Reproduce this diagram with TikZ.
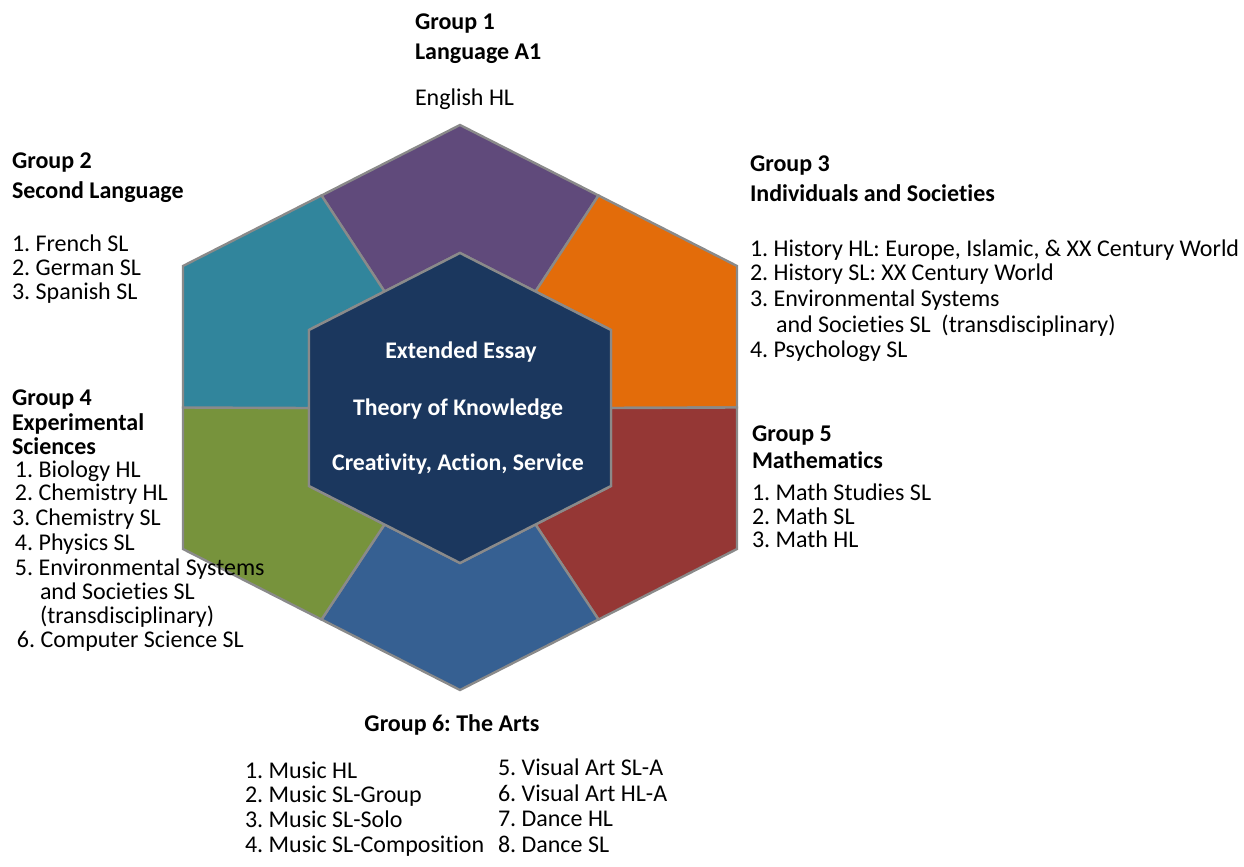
\documentclass[tikz,border=0pt]{standalone}
\usepackage{fontspec}
\setmainfont{Carlito}[Ligatures=NoCommon]
\usetikzlibrary{calc}
\frenchspacing

\definecolor{langcol}{HTML}{604A7B}
\definecolor{indcol}{HTML}{E36C0A}
\definecolor{mathcol}{HTML}{953735}
\definecolor{artcol}{HTML}{366092}
\definecolor{scicol}{HTML}{77933C}
\definecolor{seccol}{HTML}{31859C}
\definecolor{corecol}{HTML}{1B375E}
\definecolor{edgecol}{HTML}{8A8A8A}

\begin{document}
\begin{tikzpicture}[x=0.5pt,y=-0.5pt,
  every node/.style={inner sep=0pt,outer sep=0pt,font=\fontsize{12}{14}\selectfont},
  seg/.style={draw=edgecol,line width=1.2pt,line join=miter},
  head/.style={anchor=base west,font=\fontsize{12}{14}\selectfont\bfseries},
  item/.style={anchor=base west},
  core/.style={anchor=base,text=white,font=\fontsize{11.9}{14}\selectfont\bfseries}]
\useasboundingbox (0,0) rectangle (1244,867);
% outer and inner hexagon corners
\coordinate (o1) at (460,125);
\coordinate (o2) at (737,266);
\coordinate (o3) at (737,549);
\coordinate (o4) at (460,690);
\coordinate (o5) at (183,549);
\coordinate (o6) at (183,266);
\coordinate (i1) at (460,253);
\coordinate (i2) at (611,330);
\coordinate (i3) at (611,486);
\coordinate (i4) at (460,563);
\coordinate (i5) at (309,486);
\coordinate (i6) at (309,330);
% edge midpoints
\coordinate (m12) at ($(o1)!.5!(o2)$);
\coordinate (m23) at ($(o2)!.5!(o3)$);
\coordinate (m34) at ($(o3)!.5!(o4)$);
\coordinate (m45) at ($(o4)!.5!(o5)$);
\coordinate (m56) at ($(o5)!.5!(o6)$);
\coordinate (m61) at ($(o6)!.5!(o1)$);
\coordinate (n12) at ($(i1)!.5!(i2)$);
\coordinate (n23) at ($(i2)!.5!(i3)$);
\coordinate (n34) at ($(i3)!.5!(i4)$);
\coordinate (n45) at ($(i4)!.5!(i5)$);
\coordinate (n56) at ($(i5)!.5!(i6)$);
\coordinate (n61) at ($(i6)!.5!(i1)$);
% the six group segments
\draw[seg,fill=langcol] (m61) -- (o1) -- (m12) -- (n12) -- (i1) -- (n61) -- cycle;
\draw[seg,fill=indcol] (m12) -- (o2) -- (m23) -- (n23) -- (i2) -- (n12) -- cycle;
\draw[seg,fill=mathcol] (m23) -- (o3) -- (m34) -- (n34) -- (i3) -- (n23) -- cycle;
\draw[seg,fill=artcol] (m34) -- (o4) -- (m45) -- (n45) -- (i4) -- (n34) -- cycle;
\draw[seg,fill=scicol] (m45) -- (o5) -- (m56) -- (n56) -- (i5) -- (n45) -- cycle;
\draw[seg,fill=seccol] (m56) -- (o6) -- (m61) -- (n61) -- (i6) -- (n56) -- cycle;
\draw[seg,fill=corecol] (i1) -- (i2) -- (i3) -- (i4) -- (i5) -- (i6) -- cycle;
% core
\node[core] (ee) at (461,358) {Extended Essay};
\node[core] (tok) at (458,415) {Theory of Knowledge};
\node[core] (cas) at (458,470) {Creativity, Action, Service};
% group 1
\node[head] (g1a) at (415,29) {Group 1};
\node[head] (g1b) at (415,60) {Language A1};
\node[item] (g1c) at (415,105) {English HL};
% group 2
\node[head] (g2a) at (12,168) {Group 2};
\node[head] (g2b) at (12,198) {Second Language};
\node[item] (g2c) at (12,251) {1. French SL};
\node[item] (g2d) at (12,275) {2. German SL};
\node[item] (g2e) at (12,299) {3. Spanish SL};
% group 3
\node[head] (g3a) at (750,171) {Group 3};
\node[head] (g3b) at (750,201) {Individuals and Societies};
\node[item] (g3c) at (750,256) {1. History HL: Europe, Islamic, \& XX Century World};
\node[item] (g3d) at (750,280) {2. History SL: XX Century World};
\node[item] (g3e) at (750,306) {3. Environmental Systems};
\node[item] (g3f) at (776,332) {and Societies SL~~(transdisciplinary)};
\node[item] (g3g) at (750,357) {4. Psychology SL};
% group 4
\node[head] (g4a) at (12,405) {Group 4};
\node[head] (g4b) at (12,430) {Experimental};
\node[head] (g4c) at (12,454) {Sciences};
\node[item] (g4d) at (15,477) {1. Biology HL};
\node[item] (g4e) at (15,500) {2. Chemistry HL};
\node[item] (g4f) at (12,525) {3. Chemistry SL};
\node[item] (g4g) at (15,550) {4. Physics SL};
\node[item] (g4h) at (15,575) {5. Environmental Systems};
\node[item] (g4i) at (40,599) {and Societies SL};
\node[item] (g4j) at (40,623) {(transdisciplinary)};
\node[item] (g4k) at (17,647) {6. Computer Science SL};
% group 5
\node[head] (g5a) at (752,441) {Group 5};
\node[head] (g5b) at (752,468) {Mathematics};
\node[item] (g5c) at (752,500) {1. Math Studies SL};
\node[item] (g5d) at (752,524) {2. Math SL};
\node[item] (g5e) at (752,547) {3. Math HL};
% group 6
\node[head,anchor=base] (g6a) at (452,731) {Group 6: The Arts};
\node[item] (g6b) at (245,778) {1. Music HL};
\node[item] (g6c) at (245,802) {2. Music SL-Group};
\node[item] (g6d) at (245,827) {3. Music SL-Solo};
\node[item] (g6e) at (245,852) {4. Music SL-Composition};
\node[item] (g6f) at (498,775) {5. Visual Art SL-A};
\node[item] (g6g) at (498,801) {6. Visual Art HL-A};
\node[item] (g6h) at (498,826) {7. Dance HL};
\node[item] (g6i) at (498,852) {8. Dance SL};
\end{tikzpicture}
\end{document}
